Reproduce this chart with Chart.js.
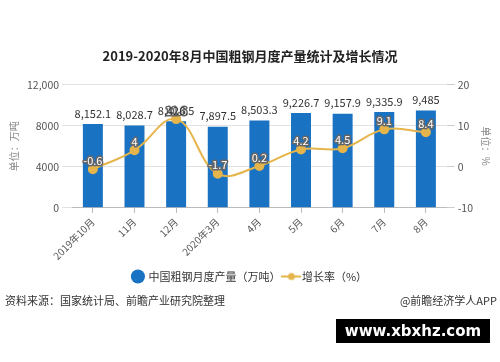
<!DOCTYPE html>
<html>
<head>
<meta charset="utf-8">
<script src="https://cdn.jsdelivr.net/npm/chart.js@4/dist/chart.umd.min.js"></script>
<style>
  body { margin: 0; background: #fff; }
  #wrap { position: relative; width: 500px; height: 362px; font-family: "Noto Sans CJK SC", "Noto Sans", sans-serif; }
  #source { position: absolute; left: 5px; top: 292px; font-size: 11px; color: #333; }
  #brand { position: absolute; right: 3px; top: 292px; font-size: 11px; color: #333; }
  #stamp { position: absolute; left: 336px; top: 319px; width: 154px; height: 24px; background: #000; color: #fff;
           font: bold 15px "DejaVu Sans", sans-serif; text-align: center; line-height: 24px; }
</style>
</head>
<body>
<div id="wrap">
  <canvas id="steelChart" width="500" height="362"></canvas>
  <div id="source">资料来源：国家统计局、前瞻产业研究院整理</div>
  <div id="brand">@前瞻经济学人APP</div>
  <div id="stamp">www.xbxhz.com</div>
</div>
<script>
const months = ['2019年10月', '11月', '12月', '2020年3月', '4月', '5月', '6月', '7月', '8月'];
const output = [8152.1, 8028.7, 8426.5, 7897.5, 8503.3, 9226.7, 9157.9, 9335.9, 9485];
const growth = [-0.6, 4, 11.6, -1.7, 0.2, 4.2, 4.5, 9.1, 8.4];
const leftTicks = [0, 4000, 8000, 12000];

const cjk = '"Noto Sans CJK SC", "Noto Sans", sans-serif';
const blue = '#1a72c2';
const gold = '#e5b54b';

// legend marker for the line: short line with a dot
const lineMark = document.createElement('canvas');
lineMark.width = 20; lineMark.height = 10;
(function () {
  const c = lineMark.getContext('2d');
  c.strokeStyle = gold; c.lineWidth = 2;
  c.beginPath(); c.moveTo(0, 5); c.lineTo(20, 5); c.stroke();
  c.fillStyle = gold;
  c.beginPath(); c.arc(10, 5, 3.5, 0, Math.PI * 2); c.fill();
})();

/* value labels over bars and points */
const valueLabels = {
  id: 'valueLabels',
  afterDatasetsDraw(chart) {
    const ctx = chart.ctx;
    ctx.save();
    ctx.textAlign = 'center';
    ctx.textBaseline = 'bottom';
    ctx.font = '11px ' + cjk;
    ctx.lineJoin = 'round';
    chart.getDatasetMeta(1).data.forEach((pt, i) => {
      const txt = String(growth[i]);
      ctx.lineWidth = 3;
      ctx.strokeStyle = '#666';
      ctx.strokeText(txt, pt.x, pt.y - 3);
      ctx.fillStyle = '#fff';
      ctx.fillText(txt, pt.x, pt.y - 3);
    });
    ctx.fillStyle = '#333';
    chart.getDatasetMeta(0).data.forEach((bar, i) => {
      const txt = output[i].toLocaleString('en-US', { maximumFractionDigits: 1 });
      ctx.fillText(txt, bar.x, bar.y - 5);
    });
    ctx.restore();
  }
};

new Chart(document.getElementById('steelChart'), {
  data: {
    labels: months,
    datasets: [
      {
        type: 'bar',
        label: '中国粗钢月度产量（万吨）',
        data: output,
        backgroundColor: blue,
        yAxisID: 'y',
        barPercentage: 0.48,
        categoryPercentage: 1,
        order: 2
      },
      {
        type: 'line',
        label: '增长率（%）',
        data: growth,
        borderColor: gold,
        backgroundColor: gold,
        borderWidth: 2,
        tension: 0.4,
        pointRadius: 4,
        pointHoverRadius: 4,
        yAxisID: 'y1',
        order: 1
      }
    ]
  },
  options: {
    responsive: false,
    animation: false,
    layout: { padding: { left: 4, right: 4, top: 0, bottom: 70 } },
    plugins: {
      tooltip: { enabled: false },
      title: {
        display: true,
        text: '2019-2020年8月中国粗钢月度产量统计及增长情况',
        color: '#222',
        font: { family: cjk, size: 13, weight: 'bold' },
        padding: { top: 48, bottom: 21 }
      },
      legend: {
        position: 'bottom',
        labels: {
          usePointStyle: true,
          color: '#333',
          font: { family: cjk, size: 11 },
          boxWidth: 10,
          boxHeight: 10,
          padding: 6,
          generateLabels(chart) {
            const items = Chart.defaults.plugins.legend.labels.generateLabels(chart);
            items.sort((a, b) => a.datasetIndex - b.datasetIndex);
            items.forEach(it => {
              it.pointStyle = it.datasetIndex === 0 ? 'circle' : lineMark;
              it.lineWidth = 0;
            });
            return items;
          }
        }
      }
    },
    scales: {
      x: {
        grid: { drawOnChartArea: false, offset: false, color: '#bbb', tickLength: 5 },
        border: { color: '#bbb' },
        ticks: { color: '#555', font: { family: cjk, size: 10 }, maxRotation: 45, minRotation: 45 }
      },
      y: {
        position: 'left',
        min: 0,
        max: 12000,
        afterBuildTicks(axis) { axis.ticks = leftTicks.map(v => ({ value: v })); },
        grid: { color: '#e2e2e2', tickLength: 10 },
        border: { display: false },
        ticks: {
          color: '#555',
          font: { family: cjk, size: 10.5 },
          callback: v => (v >= 10000 ? v.toLocaleString('en-US') : String(v))
        },
        title: { display: true, text: '单位：万吨', color: '#888', font: { family: cjk, size: 10 } }
      },
      y1: {
        position: 'right',
        min: -10,
        max: 20,
        ticks: { stepSize: 10, color: '#555', font: { family: cjk, size: 10.5 } },
        grid: { drawOnChartArea: false, color: '#ccc', tickLength: 8 },
        border: { display: false },
        title: { display: true, text: '单位：%', color: '#888', font: { family: cjk, size: 10 } }
      }
    }
  },
  plugins: [valueLabels]
});
</script>
</body>
</html>
